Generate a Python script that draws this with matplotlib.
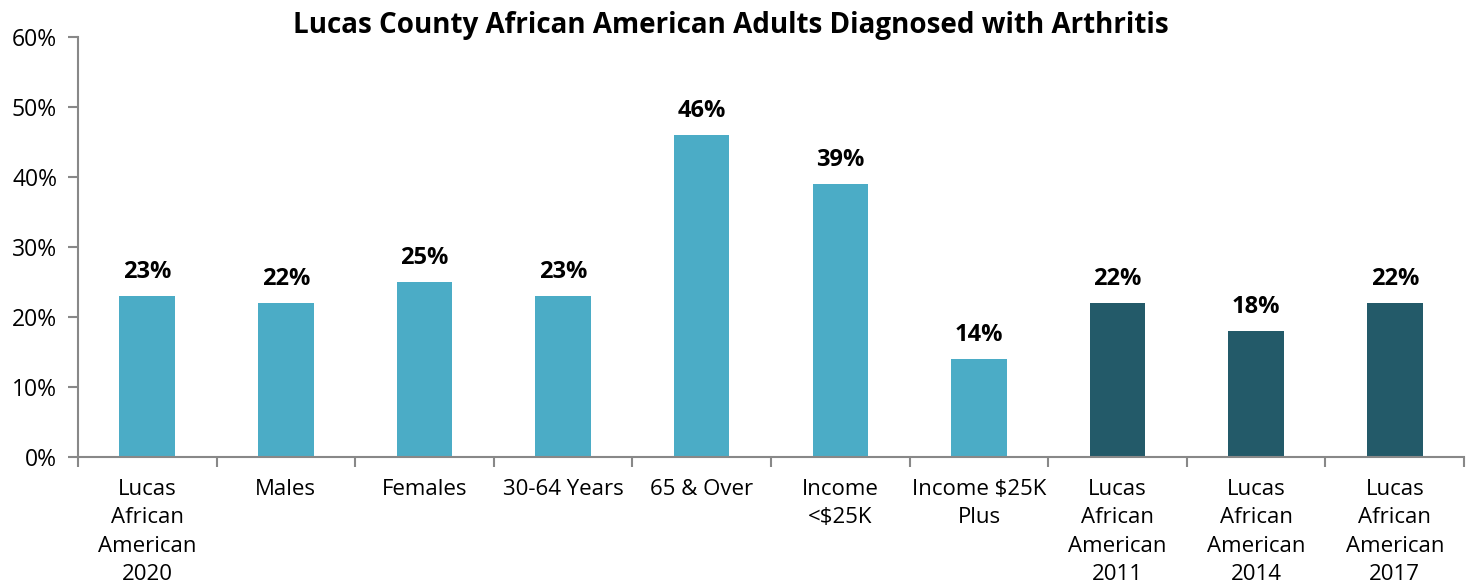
import matplotlib.pyplot as plt
import numpy as np

categories = ["Lucas\nAfrican\nAmerican\n2020", "Males", "Females", "30-64 Years", "65 & Over",
              "Income\n<$25K", "Income $25K\nPlus", "Lucas\nAfrican\nAmerican\n2011",
              "Lucas\nAfrican\nAmerican\n2014", "Lucas\nAfrican\nAmerican\n2017"]
values = [23, 22, 25, 23, 46, 39, 14, 22, 18, 22]
colors = ["#4BACC6"] * 7 + ["#235A69"] * 3

plt.rcParams['font.family'] = ['Open Sans', 'DejaVu Sans']

fig = plt.figure(figsize=(14.7, 5.83), dpi=100)
ax = fig.add_axes([0.053, 0.216, 0.943, 0.72])

x = np.arange(len(values))
ax.bar(x, values, width=0.4, color=colors)
for xi, v in zip(x, values):
    ax.text(xi, v + 1.7, f"{v}%", ha="center", va="bottom", fontsize=17, fontweight="bold")

ax.set_xlim(-0.5, len(values) - 0.5)
ax.set_ylim(0, 60)
ax.set_yticks(range(0, 61, 10))
ax.set_yticklabels([f"{t}%" for t in range(0, 61, 10)], fontsize=16.5)
ax.set_xticks(x)
ax.set_xticklabels(categories, fontsize=16, linespacing=1.45)
ax.set_xticks(np.arange(-0.5, len(values)), minor=True)
ax.tick_params(axis="x", which="major", length=0, pad=16)
ax.tick_params(axis="x", which="minor", length=7, color="#888888", width=1.5)
ax.tick_params(axis="y", length=7, color="#888888", width=1.5, pad=8)

for s in ["top", "right"]:
    ax.spines[s].set_visible(False)
for s in ["left", "bottom"]:
    ax.spines[s].set_color("#888888")
    ax.spines[s].set_linewidth(1.5)

fig.text(0.497, 0.957, "Lucas County African American Adults Diagnosed with Arthritis",
         ha="center", va="center", fontsize=20, fontweight="bold")

fig.savefig("out.png")
